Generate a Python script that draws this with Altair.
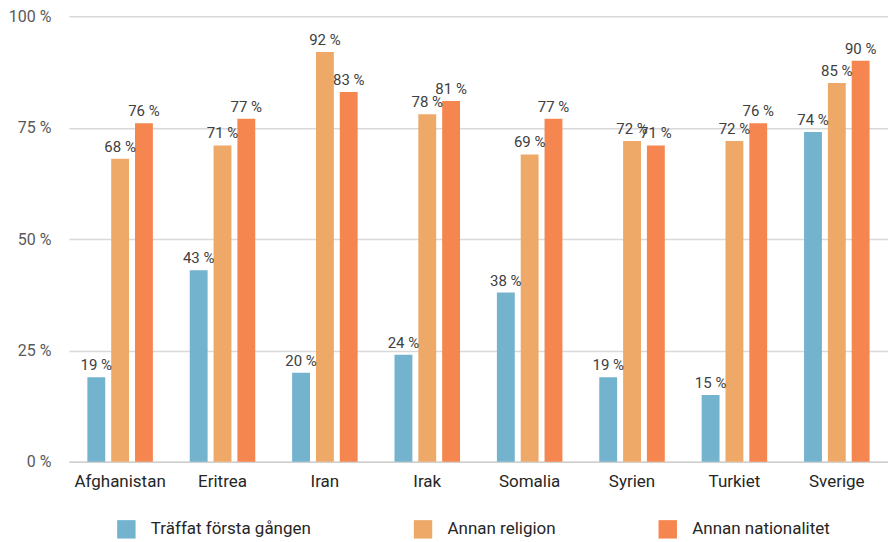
import altair as alt
import pandas as pd

countries = ["Afghanistan", "Eritrea", "Iran", "Irak", "Somalia", "Syrien", "Turkiet", "Sverige"]
series = ["Träffat första gången", "Annan religion", "Annan nationalitet"]
traffat = [19, 43, 20, 24, 38, 19, 15, 74]
religion = [68, 71, 92, 78, 69, 72, 72, 85]
nationalitet = [76, 77, 83, 81, 77, 71, 76, 90]
colors = ["#74b3ce", "#eea867", "#f5864f"]

rows = []
for i, c in enumerate(countries):
    for s, vals in zip(series, [traffat, religion, nationalitet]):
        rows.append({"land": c, "serie": s, "varde": vals[i], "etikett": f"{vals[i]} %"})
df = pd.DataFrame(rows)

FONT = "Roboto"

x = alt.X("land:N", sort=countries, title=None,
          scale=alt.Scale(paddingInner=0.36, paddingOuter=0.18),
          axis=alt.Axis(labelAngle=0, labelFontSize=17, labelColor="#262626", labelFont=FONT,
                        labelPadding=12, ticks=False, domainColor="#d0d0d0", domainWidth=1.5))
xoff = alt.XOffset("serie:N", sort=series, scale=alt.Scale(paddingInner=0.25))
y = alt.Y("varde:Q", title=None, scale=alt.Scale(domain=[0, 100]),
          axis=alt.Axis(values=[0, 25, 50, 75, 100], labelExpr="datum.value + ' %'",
                        labelFontSize=16, labelColor="#595959", labelFont=FONT, labelPadding=18,
                        ticks=False, domain=False, gridColor="#d9d9d9", gridWidth=1.5))

base = alt.Chart(df)
bars = base.mark_bar().encode(
    x=x, xOffset=xoff, y=y,
    color=alt.Color("serie:N", sort=series, scale=alt.Scale(domain=series, range=colors),
                    legend=alt.Legend(title=None, orient="none", legendX=48, legendY=504,
                                      direction="horizontal", symbolType="square", symbolSize=340,
                                      symbolStrokeWidth=0, labelFontSize=17, labelColor="#262626",
                                      labelFont=FONT, labelOffset=15, columnPadding=102,
                                      labelLimit=400, symbolOpacity=1)),
)
labels = base.mark_text(baseline="bottom", dy=-4, fontSize=15, color="#404040", font=FONT).encode(
    x=x, xOffset=xoff, y=y, text="etikett:N")

chart = (bars + labels).properties(width=820, height=446, padding={"left": 0, "top": 0, "right": 0, "bottom": 0}).configure_view(stroke=None)
chart.save("out.html", embed_options={"renderer": "svg", "actions": False})
